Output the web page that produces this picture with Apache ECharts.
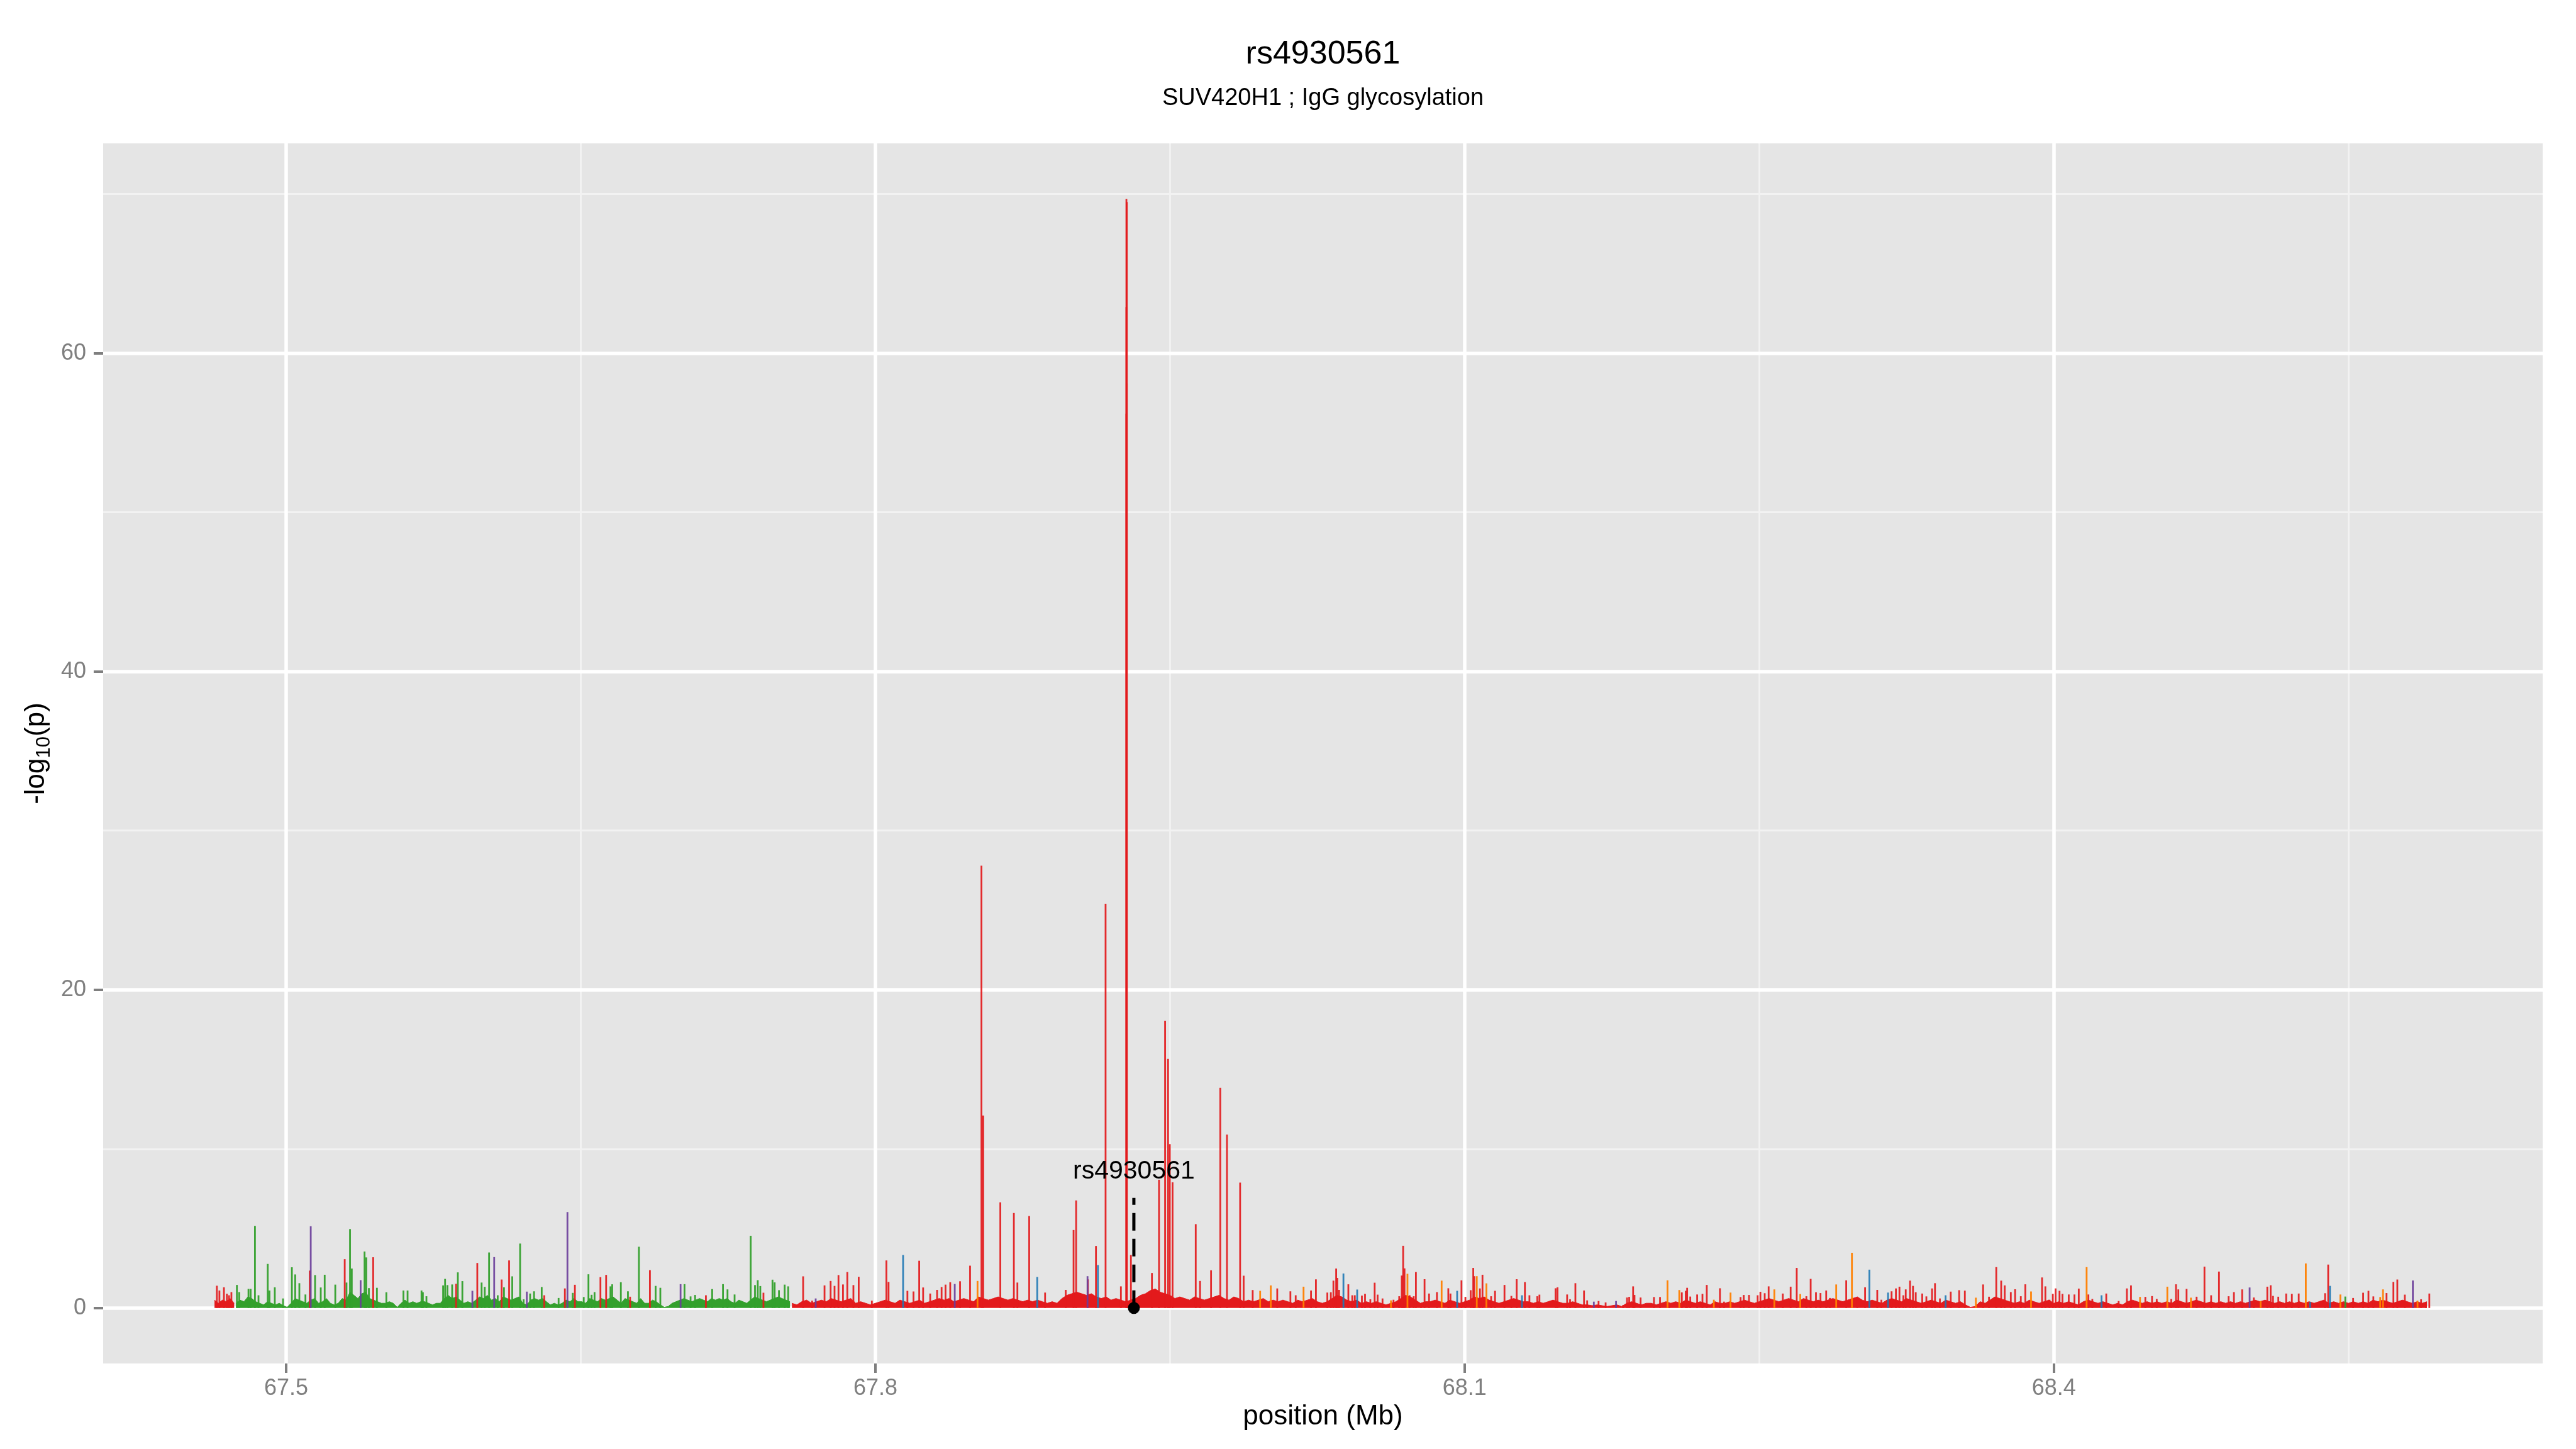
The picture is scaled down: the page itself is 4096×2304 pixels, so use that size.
<!DOCTYPE html>
<html><head><meta charset="utf-8">
<script src="https://cdn.jsdelivr.net/npm/echarts@6/dist/echarts.min.js"></script>
<style>html,body{margin:0;padding:0;background:#fff}#c{width:4096px;height:2304px}</style>
</head><body><div id="c"></div>
<script>
const FONT = '"Liberation Sans", Arial, Helvetica, sans-serif';
const titleText = 'rs4930561';
const subtitleText = 'SUV420H1 ; IgG glycosylation';
const xTicks = [67.5, 67.8, 68.1, 68.4];
const xMinor = [67.65, 67.95, 68.25, 68.55];
const yTicks = [0, 20, 40, 60];
const yMinor = [10, 30, 50, 70];

// carpet of dense low values (read in bins)
const redCarpetAStart = 67.4635, redCarpetAStep = 0.002;
const redCarpetA = [0.5,0.3,0.5,0.4,0.6,0.3];
const greenCarpetStart = 67.4745, greenCarpetStep = 0.002;
const greenCarpet = [0.3,0.5,0.4,0.7,0.6,0.4, 0.3,0.2,0.4,0.3,0.2,0.3, 0.15,0.05,0.3,0.6,0.5,0.4,
 0.3,0.5,0.6,0.3,0.4,0.6, 0.3,0.2,0.3,0.6,0.5,1.0, 0.8,0.6,0.9,1.0,0.6,0.5, 0.4,0.3,0.3,0.4,0.3,0.05,
 0.3,0.5,0.3,0.4,0.3,0.4, 0.4,0.3,0.2,0.3,0.3,0.6, 0.8,0.6,0.7,0.5,0.3,0.4, 0.3,0.5,0.7,0.6,0.8,0.5,
 0.6,0.4,0.7,0.6,0.5,0.6, 0.7,0.3,0.2,0.5,0.6,0.5, 0.6,0.4,0.2,0.3,0.2,0.3, 0.5,0.4,0.6,0.4,0.4,0.3,
 0.6,0.5,0.4,0.6,0.5,0.6, 0.7,0.5,0.3,0.6,0.5,0.4, 0.3,0.6,0.3,0.3,0.5,0.4, 0.2,0.05,0.1,0.3,0.4,0.5,
 0.6,0.5,0.4,0.5,0.6,0.5, 0.4,0.6,0.5,0.6,0.5,0.6, 0.4,0.3,0.5,0.4,0.3,0.5, 0.7,0.6,0.5,0.4,0.5,0.6,
 0.7,0.6,0.5,0.4];
const redCarpetBStart = 67.7575, redCarpetBStep = 0.0025;
const redCarpetB = [
 0.3,0.2,0.4,0.5,0.3,0.4,0.5,0.4,0.6,0.5, 0.4,0.5,0.6,0.3,0.4,0.3,0.2,0.3,0.4,0.5,
 0.4,0.3,0.5,0.4,0.3,0.4,0.5,0.3,0.4,0.5, 0.6,0.5,0.6,0.4,0.5,0.6,0.5,0.4,0.7,0.6,
 0.5,0.6,0.7,0.6,0.5,0.6,0.5,0.4,0.5,0.4, 0.5,0.4,0.3,0.4,0.3,0.6,0.8,0.9,1.0,0.9,
 0.8,0.9,0.7,0.6,0.7,0.5,0.6,0.5,0.4,0.5, 0.6,0.8,0.9,1.1,1.2,1.0,0.9,0.8,0.6,0.7,
 0.6,0.5,0.7,0.6,0.5,0.6,0.7,0.8,0.6,0.5, 0.7,0.6,0.4,0.5,0.4,0.5,0.6,0.4,0.5,0.4,
 0.5,0.4,0.3,0.5,0.4,0.5,0.6,0.4,0.3,0.4, 0.6,0.8,0.7,0.5,0.4,0.5,0.3,0.4,0.3,0.4,
 0.3,0.2,0.3,0.4,0.6,0.8,0.7,0.5,0.3,0.4, 0.4,0.5,0.4,0.3,0.5,0.4,0.3,0.4,0.5,0.7,
 0.6,0.7,0.5,0.4,0.3,0.4,0.5,0.6,0.5,0.4, 0.4,0.3,0.4,0.3,0.4,0.5,0.4,0.3,0.3,0.4,
 0.3,0.2,0.2,0.15,0.2,0.15,0.1,0.15,0.2,0.1, 0.3,0.4,0.3,0.2,0.3,0.3,0.2,0.3,0.4,0.3,
 0.4,0.3,0.5,0.4,0.3,0.4,0.3,0.2,0.4,0.3, 0.3,0.4,0.3,0.4,0.5,0.4,0.3,0.4,0.5,0.6,
 0.5,0.4,0.5,0.6,0.5,0.4,0.6,0.5,0.4,0.5, 0.4,0.5,0.6,0.5,0.4,0.5,0.6,0.7,0.5,0.4,
 0.5,0.4,0.3,0.5,0.6,0.5,0.4,0.6,0.5,0.4, 0.3,0.4,0.5,0.4,0.3,0.5,0.4,0.3,0.4,0.2,
 0.05,0.1,0.4,0.3,0.5,0.7,0.6,0.5,0.4,0.3, 0.4,0.3,0.5,0.4,0.3,0.4,0.5,0.3,0.4,0.3,
 0.4,0.3,0.2,0.4,0.5,0.4,0.3,0.4,0.3,0.2, 0.3,0.2,0.4,0.5,0.4,0.3,0.4,0.3,0.4,0.3,
 0.4,0.3,0.5,0.4,0.3,0.4,0.5,0.4,0.3,0.4, 0.3,0.4,0.3,0.4,0.3,0.4,0.3,0.4,0.5,0.4,
 0.5,0.4,0.3,0.4,0.3,0.4,0.3,0.4,0.3,0.4, 0.3,0.4,0.5,0.3,0.4,0.3,0.4,0.3,0.4,0.3,
 0.4,0.3,0.5,0.4,0.5,0.4,0.3,0.4,0.5,0.4, 0.3,0.4,0.3,0.4];

// individual SNP spikes [position Mb, -log10(p)]
const greenSpikes = [[67.4749,1.45],[67.4761,1.0],[67.4808,1.2],[67.4819,1.2],[67.4841,5.16],[67.4859,0.8],
 [67.4906,2.77],[67.4915,1.1],[67.4942,1.3],[67.4984,0.6],[67.5029,2.56],[67.5046,2.11],[67.5067,1.56],
 [67.5098,0.85],[67.5147,2.07],[67.5176,1.29],[67.5196,2.09],[67.5250,1.47],[67.5307,1.6],[67.5325,4.96],
 [67.5334,2.48],[67.5399,3.55],[67.5408,3.18],[67.5421,1.25],[67.5462,1.27],[67.5510,0.99],[67.5597,1.1],
 [67.5618,1.1],[67.5689,1.1],[67.5696,0.99],[67.5714,0.74],[67.5799,1.42],[67.5809,1.83],[67.5821,1.44],
 [67.5845,1.48],[67.5874,2.24],[67.5897,1.69],[67.5995,1.6],[67.6011,1.33],[67.6033,3.49],[67.6077,0.8],
 [67.6109,1.3],[67.6151,1.99],[67.6191,4.05],[67.6209,0.55],[67.6242,0.91],[67.6262,1.05],[67.6301,1.32],
 [67.6387,0.63],[67.6459,0.95],[67.6515,0.69],[67.6539,2.12],[67.6555,0.83],[67.6570,1.0],[67.6651,1.36],
 [67.6660,1.49],[67.6704,1.62],[67.6740,1.05],[67.6796,3.85],[67.6881,1.39],[67.6905,1.27],[67.7028,1.5],
 [67.7059,0.73],[67.7082,0.82],[67.7169,1.19],[67.7224,1.5],[67.7247,1.17],[67.7283,0.85],[67.7365,4.54],
 [67.7387,1.44],[67.7401,1.75],[67.7414,1.38],[67.7476,1.78],[67.7487,1.61],[67.7509,1.12],[67.7538,1.47],
 [67.7556,1.36],[68.5484,0.72]];
const redSpikes = [[67.4647,1.4],[67.4660,1.1],[67.4683,1.3],[67.4698,0.9],[67.4709,0.8],[67.4721,1.0],
 [67.5120,2.35],[67.5298,3.07],[67.5443,3.19],[67.5865,1.52],[67.5973,2.83],[67.6097,1.79],[67.6135,2.99],
 [67.6314,0.8],[67.6419,1.23],[67.6470,1.46],[67.6600,1.94],[67.6629,2.08],[67.6751,0.71],[67.6852,2.38],
 [67.7137,0.8],[67.7430,0.96],[67.7632,1.99],[67.7678,0.46],[67.7741,1.42],[67.7772,1.7],[67.7792,1.39],
 [67.7812,2.07],[67.7835,1.48],[67.7857,2.26],[67.7888,1.44],[67.7915,1.96],[67.7982,0.46],[67.8056,2.99],
 [67.8067,1.64],[67.8163,1.08],[67.8194,1.04],[67.8223,2.97],[67.8243,1.29],[67.8279,0.91],[67.8314,1.14],
 [67.8337,1.32],[67.8357,1.47],[67.8381,1.62],[67.8431,1.68],[67.8482,2.66],[67.8540,27.8],[67.8549,12.1],
 [67.8636,6.64],[67.8705,5.97],[67.8723,1.6],[67.8783,5.78],[67.8864,0.97],[67.8969,1.14],[67.9009,4.9],
 [67.9022,6.76],[67.9082,1.8],[67.9123,3.9],[67.9172,25.4],[67.9250,1.36],[67.9278,69.7],[67.9280,69.5],
 [67.9278,62.9],[67.9280,58.1],[67.9278,56.2],[67.9301,3.33],[67.9408,2.2],[67.9444,8.06],[67.9475,18.05],
 [67.9490,15.65],[67.9499,10.3],[67.9513,7.9],[67.9631,5.27],[67.9653,1.7],[67.9709,2.37],[67.9756,13.83],
 [67.9790,10.9],[67.9857,7.88],[67.9875,2.03],[67.9921,1.13],[68.0046,1.23],[68.0113,1.05],[68.0140,0.8],
 [68.0218,1.1],[68.0243,1.8],
 [68.0301,0.97],[68.0319,0.99],[68.0332,1.72],[68.0346,2.48],[68.0352,1.89],[68.0361,1.14],[68.0408,1.49],
 [68.0428,0.8],[68.0441,0.8],[68.0477,0.78],[68.0493,0.89],[68.0520,0.55],[68.0542,1.59],[68.0557,0.84],
 [68.0582,0.6],[68.0638,0.52],[68.0667,0.74],[68.0680,2.04],[68.0687,3.91],[68.0694,2.49],[68.0720,0.8],
 [68.0741,0.74],[68.0752,2.26],[68.0778,0.29],[68.0796,1.81],[68.0819,0.91],[68.0859,1.0],[68.0917,1.24],
 [68.0928,0.91],[68.0984,1.74],[68.1004,0.7],[68.1031,1.12],[68.1044,2.52],[68.1049,2.0],[68.1078,1.23],
 [68.1091,2.09],[68.1135,0.74],[68.1155,1.08],[68.1203,1.45],[68.1238,0.76],[68.1265,1.81],[68.1307,1.63],
 [68.1330,0.8],[68.1370,0.74],[68.1381,0.84],[68.1463,1.24],[68.1473,1.3],[68.1522,0.85],[68.1537,0.55],
 [68.1564,1.56],[68.1608,1.1],[68.1624,0.48],[68.1682,0.44],[68.1718,0.35],[68.1807,0.18],[68.1827,0.66],
 [68.1838,0.7],[68.1858,1.36],[68.1865,0.82],[68.1896,0.66],[68.1964,0.69],[68.1995,0.69],[68.2042,0.35],
 [68.2106,0.98],[68.2126,1.08],[68.2133,1.27],[68.2149,0.72],[68.2184,0.85],[68.2211,0.89],[68.2233,1.45],
 [68.2300,1.24],[68.2321,0.4],[68.2405,0.69],[68.2421,0.82],[68.2448,0.82],[68.2492,0.8],[68.2506,1.02],
 [68.2528,0.93],[68.2548,1.36],[68.2620,0.91],[68.2660,1.34],[68.2691,2.52],[68.2740,0.74],[68.2762,1.83],
 [68.2789,0.99],[68.2812,0.94],[68.2841,1.1],[68.2860,0.63],[68.2943,1.74],[68.2999,0.57],[68.3039,1.3],
 [68.3101,1.14],[68.3122,0.52],
 [68.3174,1.05],[68.3196,1.23],[68.3214,1.34],[68.3234,0.8],[68.3246,1.17],[68.3268,1.72],[68.3283,1.39],
 [68.3297,0.99],[68.3330,0.91],[68.3351,0.73],[68.3380,1.23],[68.3395,1.56],[68.3420,0.6],[68.3475,1.03],
 [68.3518,1.12],[68.3547,1.09],[68.3640,1.48],[68.3670,0.71],[68.3707,2.57],[68.3732,1.72],[68.3750,1.42],
 [68.3781,1.0],[68.3803,1.18],[68.3832,0.74],[68.3855,1.49],[68.3940,1.92],[68.3957,1.36],[68.3978,0.52],
 [68.3995,0.89],[68.4009,1.23],[68.4029,1.08],[68.4044,0.89],[68.4076,0.85],[68.4105,0.85],[68.4127,1.22],
 [68.4176,0.85],[68.4196,0.57],[68.4267,0.91],[68.4330,0.44],[68.4372,1.23],[68.4393,1.42],[68.4466,0.7],
 [68.4500,0.75],[68.4524,0.57],[68.4598,0.57],[68.4622,1.49],[68.4634,1.17],[68.4676,1.2],[68.4727,0.71],
 [68.4767,2.6],[68.4801,0.8],[68.4841,2.29],[68.4890,0.74],[68.4917,1.0],[68.4959,1.17],[68.5018,0.66],
 [68.5087,1.34],[68.5104,1.43],[68.5116,0.76],[68.5143,0.71],[68.5183,0.91],[68.5212,0.89],[68.5247,0.91],
 [68.5381,0.93],[68.5397,2.73],[68.5524,0.63],[68.5575,0.96],[68.5602,1.08],[68.5627,0.73],[68.5694,0.94],
 [68.5729,1.64],[68.5749,1.79],[68.5787,0.84],[68.5870,0.55],[68.5895,0.39],[68.5912,0.91]];
const orangeSpikes = [[67.8520,1.7],[67.9959,1.08],[68.0013,1.42],[68.0180,1.34],[68.0625,0.48],[68.0709,2.15],
 [68.0883,1.72],[68.1062,2.0],[68.1111,1.55],[68.2033,1.74],[68.2093,1.13],[68.2269,0.52],[68.2354,0.97],
 [68.2577,1.17],[68.2709,0.88],[68.2892,1.48],[68.2972,3.47],[68.3603,0.65],[68.3884,1.04],[68.4167,2.57],
 [68.4439,0.7],[68.4578,1.34],[68.4698,0.65],[68.5053,0.44],[68.5283,2.8],[68.5459,0.85],[68.5662,0.69],
 [68.5676,1.17],[68.5852,0.46]];
const purpleSpikes = [[67.5125,5.14],[67.5379,1.75],[67.5948,1.08],[67.6059,3.2],[67.6225,1.03],[67.6432,6.03],
 [67.7008,1.5],[67.7696,0.6],[67.8404,1.51],[67.9080,2.0],[68.1658,0.4],[68.1771,0.44],[68.4997,1.29],[68.5828,1.73]];
const blueSpikes = [[67.8141,3.33],[67.8824,1.95],[67.9133,2.7],[68.0383,2.17],[68.0453,1.16],[68.0962,1.08],
 [68.1292,0.8],[68.3061,2.41],[68.3156,0.97],[68.3449,0.8],[68.4243,0.8],[68.5305,0.39],[68.5406,1.39]];

// highlighted SNP: [position, top of dashed line, label height]
const leadSnp = [[67.9316, 6.92, 8.6]];
const leadLabel = 'rs4930561';

const RED = '#E31A1C', GREEN = '#33A02C', ORANGE = '#FF7F00', PURPLE = '#6A3D9A', BLUE = '#1F78B4';
const GRID = {left: 164, right: 53, top: 228, bottom: 136};
const W = 4096, H = 2304;
const panelCenterX = GRID.left + (W - GRID.left - GRID.right) / 2;

function carpetSeries(start, step, vals, color) {
  return {type: 'line', data: vals.map((v, i) => [start + step * i, v]), symbol: 'none', showSymbol: false,
    lineStyle: {width: 1, color: color}, itemStyle: {color: color}, areaStyle: {color: color, opacity: 1},
    z: 2, silent: true, animation: false};
}
function spikeSeries(data, color, opacity) {
  return {type: 'custom', data: data, z: 3, silent: true, animation: false,
    renderItem: function (params, api) {
      const x = api.value(0), y = api.value(1);
      const a = api.coord([x, 0]), b = api.coord([x, y]);
      return {type: 'line', shape: {x1: a[0], y1: a[1], x2: b[0], y2: b[1]},
        style: {stroke: color, lineWidth: 2.8, opacity: opacity}};
    }};
}
function gridLines(xs, ys, color, width) {
  return {type: 'line', data: [], silent: true, animation: false,
    markLine: {silent: true, z: 1, animation: false, symbol: ['none', 'none'], label: {show: false},
      lineStyle: {color: color, width: width, type: 'solid', opacity: 1},
      emphasis: {disabled: true},
      data: xs.map(v => ({xAxis: v})).concat(ys.map(v => ({yAxis: v})))}};
}

const chart = echarts.init(document.getElementById('c'), null, {renderer: 'canvas', width: W, height: H});
chart.setOption({
  animation: false,
  backgroundColor: '#FFFFFF',
  graphic: [
    {type: 'text', x: panelCenterX, y: 87, silent: true,
      style: {text: titleText, align: 'center', verticalAlign: 'middle', fontFamily: 'Liberation Sans', fontSize: 52, fill: '#000'}},
    {type: 'text', x: panelCenterX, y: 157, silent: true,
      style: {text: subtitleText, align: 'center', verticalAlign: 'middle', fontFamily: 'Liberation Sans', fontSize: 38, fill: '#000'}}
  ],
  grid: Object.assign({show: true, backgroundColor: '#E5E5E5', borderWidth: 0}, GRID),
  xAxis: {type: 'value', min: 67.4068, max: 68.6489,
    name: 'position (Mb)', nameLocation: 'middle', nameGap: 60,
    nameTextStyle: {fontFamily: FONT, fontSize: 44, color: '#000'},
    axisLine: {show: false, onZero: false},
    axisTick: {show: true, customValues: xTicks, length: 15, lineStyle: {color: '#7F7F7F', width: 4}},
    axisLabel: {customValues: xTicks, margin: 22, fontFamily: FONT, fontSize: 36, color: '#7F7F7F',
      formatter: v => v.toFixed(1)},
    splitLine: {show: false}},
  yAxis: {type: 'value', min: -3.485, max: 73.185,
    name: '{m|-log}{s|10}{m|(p)}', nameLocation: 'middle', nameGap: 74,
    nameTextStyle: {fontFamily: FONT, fontSize: 44, color: '#000',
      rich: {m: {fontFamily: FONT, fontSize: 44, color: '#000', verticalAlign: 'top', lineHeight: 50},
             s: {fontFamily: FONT, fontSize: 31, color: '#000', verticalAlign: 'bottom', lineHeight: 50}}},
    axisLine: {show: false, onZero: false},
    axisTick: {show: true, customValues: yTicks, length: 15, lineStyle: {color: '#7F7F7F', width: 4}},
    axisLabel: {customValues: yTicks, margin: 27, fontFamily: FONT, fontSize: 36, color: '#7F7F7F'},
    splitLine: {show: false}},
  series: [
    gridLines(xMinor, yMinor, '#F2F2F2', 2.8),
    gridLines(xTicks, yTicks, '#FFFFFF', 5.5),
    carpetSeries(redCarpetAStart, redCarpetAStep, redCarpetA, RED),
    carpetSeries(greenCarpetStart, greenCarpetStep, greenCarpet, GREEN),
    carpetSeries(redCarpetBStart, redCarpetBStep, redCarpetB, RED),
    spikeSeries(greenSpikes, GREEN, 0.95),
    spikeSeries(redSpikes, RED, 0.92),
    spikeSeries(orangeSpikes, ORANGE, 0.95),
    spikeSeries(purpleSpikes, PURPLE, 0.9),
    spikeSeries(blueSpikes, BLUE, 0.9),
    {type: 'custom', data: leadSnp, z: 4, silent: true, animation: false,
      renderItem: function (params, api) {
        const x = api.value(0), top = api.value(1), ly = api.value(2);
        const a = api.coord([x, 0]), b = api.coord([x, top]), c = api.coord([x, ly]);
        return {type: 'group', children: [
          {type: 'line', shape: {x1: a[0], y1: a[1], x2: b[0], y2: b[1]},
            style: {stroke: '#000', lineWidth: 5, lineDash: [28, 13]}},
          {type: 'circle', shape: {cx: a[0], cy: a[1], r: 9.5}, style: {fill: '#000'}},
          {type: 'text', style: {text: leadLabel, x: c[0], y: c[1], align: 'center', verticalAlign: 'middle',
            fontFamily: 'Liberation Sans', fontSize: 41, fill: '#000'}}
        ]};
      }}
  ]
});
</script></body></html>
